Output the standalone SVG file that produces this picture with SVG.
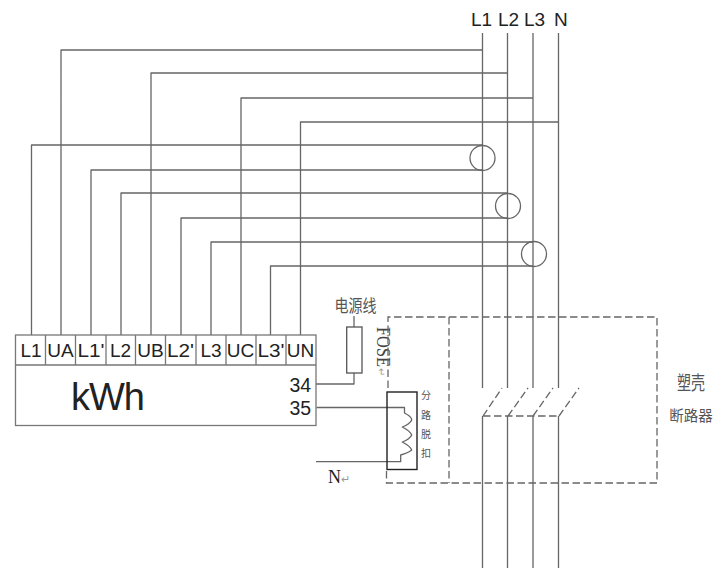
<svg xmlns="http://www.w3.org/2000/svg" width="715" height="568" viewBox="0 0 715 568">
<style>
.w{fill:none;stroke:#666;stroke-width:1.3;stroke-linejoin:round}
.b{fill:none;stroke:#777;stroke-width:1.3}
.d{fill:none;stroke:#666;stroke-width:1.3;stroke-dasharray:7.5 3.5}
.t{font-family:"Liberation Sans",Arial,sans-serif;fill:#222}
.l{font-size:19px;text-anchor:middle}
.c{font-family:"Noto Sans CJK SC","Liberation Sans",sans-serif;fill:#555;text-anchor:middle}
</style>
<rect width="715" height="568" fill="#fff"/>
<g id="connectors">
<path class="w" d="M482.5 33V388M507.5 33V388M533 33V388M558.5 33V388M482.5 416V568M507.5 416V568M533 416V568M558.5 416V568"/>
<path class="w" d="M61 335V50H482.5M151 335V73H507.5M241 335V98H533M300.5 335V122H558.5"/>
<path class="w" d="M31.5 335V145H482.5M91 335V170H482.5M121 335V193H507.5M181 335V218H507.5M211 335V242H533M270.5 335V266H533"/>
<path class="w" d="M354 316V327M354 373V384H316"/>
<path class="w" d="M316.5 407.5H404.5V413Q412 417 411.7 420Q410 424 402.3 427Q410 431 411.7 435Q410 439 402.3 442Q410 446 411.7 450Q408 453 400.7 455V461.7H316"/>
<path class="d" d="M483 416L502 388M508 416L528 388M533 416L553 388M559 416L579 388M483 416H559"/>
</g>
<g id="meter">
<rect x="15.5" y="335" width="300.5" height="90.5" fill="none" stroke="#777" stroke-width="1.3"/>
<path class="b" d="M15.5 365H316M45.5 335V365M75.5 335V365M106 335V365M135.5 335V365M165.5 335V365M196 335V365M226 335V365M256 335V365M286 335V365"/>
<g class="t l">
<text x="31" y="357">L1</text><text x="60.5" y="357">UA</text><text x="91" y="357" textLength="27" lengthAdjust="spacingAndGlyphs">L1'</text><text x="120.5" y="357">L2</text><text x="150.5" y="357">UB</text><text x="180.5" y="357" textLength="27" lengthAdjust="spacingAndGlyphs">L2'</text><text x="211" y="357">L3</text><text x="240.5" y="357">UC</text><text x="271" y="357" textLength="27" lengthAdjust="spacingAndGlyphs">L3'</text><text x="300.5" y="357">UN</text>
</g>
<text class="t" x="71" y="410" font-size="38" letter-spacing="-1">kWh</text>
<text class="t" x="289.5" y="391.5" font-size="19.5">34</text>
<text class="t" x="289.5" y="415" font-size="19.5">35</text>
</g>
<g id="ct1"><circle class="w" cx="482.5" cy="158" r="12.5"/></g>
<g id="ct2"><circle class="w" cx="508" cy="206" r="12.5"/></g>
<g id="ct3"><circle class="w" cx="534" cy="254" r="12.5"/></g>
<g id="bus-labels" class="t">
<text x="471" y="26" font-size="19">L1</text><text x="498" y="26" font-size="19">L2</text><text x="524" y="26" font-size="19">L3</text><text x="554" y="26" font-size="19">N</text>
</g>
<g id="fuse">
<rect x="346.7" y="327" width="15.3" height="46" fill="none" stroke="#555" stroke-width="1.3"/>
<text class="c" transform="translate(355.5 312) scale(1 1.25)" font-size="14">电源线</text>
</g>
<g id="fuse-label">
<text transform="translate(377 327) rotate(90)" font-family="Liberation Serif,serif" font-size="19" fill="#444" textLength="40" lengthAdjust="spacingAndGlyphs">FOSE</text>
<text transform="translate(378 368) rotate(90)" font-family="Liberation Serif,serif" font-size="10" fill="#999">↵</text>
</g>
<g id="breaker">
<path class="d" d="M388 388V317H657V483H386.5V469.5M449 317V483"/>
<text class="c" transform="translate(691 390) scale(1 1.35)" font-size="14">塑壳</text>
<text class="c" x="691" y="421" font-size="14.5">断路器</text>
</g>
<g id="shunt">
<rect x="387" y="392" width="30" height="77.5" fill="none" stroke="#222" stroke-width="1.4"/>
<g class="c" font-size="10" fill="#444"><text x="426" y="399">分</text><text x="426" y="419">路</text><text x="426" y="438">脱</text><text x="426" y="457">扣</text></g>
</g>
<text x="328" y="483" font-family="Liberation Serif,serif" font-size="18" fill="#222">N<tspan fill="#999" font-size="11">↵</tspan></text>
</svg>
